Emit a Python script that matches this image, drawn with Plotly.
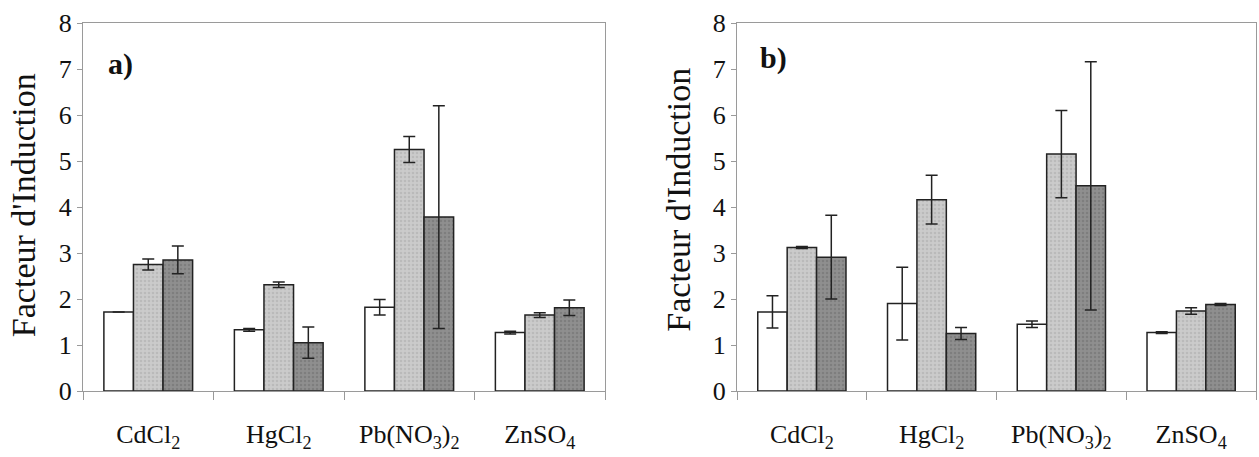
import plotly.graph_objects as go

categories = ["CdCl<sub>2</sub>", "HgCl<sub>2</sub>", "Pb(NO<sub>3</sub>)<sub>2</sub>", "ZnSO<sub>4</sub>"]

# Panel a)
a_white = [1.72, 1.33, 1.82, 1.27]
a_white_err = [0.0, 0.03, 0.17, 0.03]
a_gray = [2.75, 2.31, 5.25, 1.65]
a_gray_err = [0.12, 0.06, 0.28, 0.05]
a_dark = [2.85, 1.05, 3.78, 1.81]
a_dark_err = [0.30, 0.34, 2.42, 0.17]

# Panel b)
b_white = [1.72, 1.90, 1.45, 1.27]
b_white_err = [0.35, 0.79, 0.07, 0.02]
b_gray = [3.12, 4.16, 5.15, 1.74]
b_gray_err = [0.02, 0.53, 0.95, 0.07]
b_dark = [2.91, 1.25, 4.46, 1.88]
b_dark_err = [0.91, 0.13, 2.70, 0.02]

y_ticks = [0, 1, 2, 3, 4, 5, 6, 7, 8]

SERIF = "Liberation Serif, Times New Roman, serif"
colors = ["#ffffff", "#cbcbcb", "#8f8f8f"]
dots = ["#ffffff", "#a9a9a9", "#6e6e6e"]

fig = go.Figure()

def add_panel(vals, errs, xa, ya):
    for v, e, c, d in zip(vals, errs, colors, dots):
        fig.add_trace(go.Bar(
            x=categories, y=v, xaxis=xa, yaxis=ya,
            marker=dict(color=c, line=dict(color="#222222", width=1.5),
                        pattern=dict(shape=".", fgcolor=d, bgcolor=c, size=4, solidity=0.35)),
            error_y=dict(type="data", array=e, visible=True, color="#222222",
                         thickness=1.5, width=6),
            showlegend=False,
        ))

add_panel([a_white, a_gray, a_dark], [a_white_err, a_gray_err, a_dark_err], "x", "y")
add_panel([b_white, b_gray, b_dark], [b_white_err, b_gray_err, b_dark_err], "x2", "y2")

xcommon = dict(
    type="category", showline=True, linecolor="#9a9a9a", linewidth=1.2, mirror=True,
    ticks="outside", tickson="boundaries", ticklen=8, tickcolor="#9a9a9a",
    tickfont=dict(family=SERIF, size=26, color="#111111"),
    ticklabelstandoff=20, showgrid=False, zeroline=False,
)
ycommon = dict(
    range=[0, 8], tickvals=y_ticks, showline=True, linecolor="#9a9a9a", linewidth=1.2,
    mirror=True, ticks="outside", ticklen=5, tickcolor="#9a9a9a",
    tickfont=dict(family=SERIF, size=26, color="#111111"),
    showgrid=False, zeroline=False, domain=[0, 1],
)

fig.update_layout(
    width=1259, height=457,
    margin=dict(l=0, r=0, t=23, b=66),
    paper_bgcolor="white", plot_bgcolor="white",
    font=dict(family=SERIF),
    barmode="group", bargap=0.32, bargroupgap=0,
    xaxis=dict(domain=[83/1259, 605/1259], anchor="y", **xcommon),
    yaxis=dict(anchor="x", **ycommon),
    xaxis2=dict(domain=[737/1259, 1256/1259], anchor="y2", **xcommon),
    yaxis2=dict(anchor="x2", **ycommon),
    annotations=[
        dict(text="Facteur d'Induction", xref="paper", yref="paper",
             x=23/1259, y=0.505, textangle=-90, showarrow=False,
             font=dict(family=SERIF, size=34, color="#111111"), xanchor="center", yanchor="middle"),
        dict(text="Facteur d'Induction", xref="paper", yref="paper",
             x=679/1259, y=0.52, textangle=-90, showarrow=False,
             font=dict(family=SERIF, size=34, color="#111111"), xanchor="center", yanchor="middle"),
        dict(text="<b>a)</b>", xref="x domain", yref="y", x=0.045, y=7.1,
             showarrow=False, xanchor="left", yanchor="middle",
             font=dict(family=SERIF, size=30, color="#111111")),
        dict(text="<b>b)</b>", xref="x2 domain", yref="y2", x=0.04, y=7.25,
             showarrow=False, xanchor="left", yanchor="middle",
             font=dict(family=SERIF, size=30, color="#111111")),
    ],
)

fig.write_html("out.html")
